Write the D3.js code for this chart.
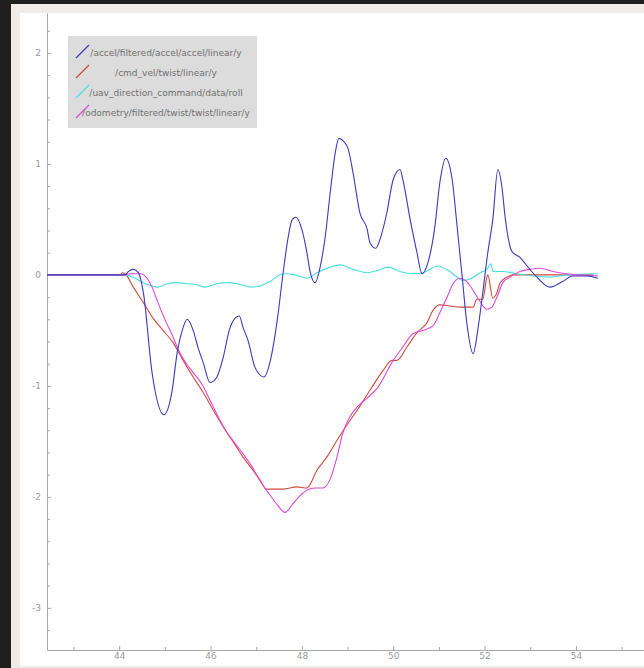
<!DOCTYPE html>
<html>
<head>
<meta charset="utf-8">
<script src="https://cdn.jsdelivr.net/npm/d3@7"></script>
<style>
  html, body { margin: 0; padding: 0; background: #1f1f1f; }
  svg { display: block; }
  .axis text { font-family: "DejaVu Sans", sans-serif; font-size: 9px; fill: #9a9a9a; }
  .axis path, .axis line { stroke: #a8a8a8; }
  .legend text { font-family: "DejaVu Sans", sans-serif; font-size: 9px; fill: #707070; }
</style>
</head>
<body>
<div id="vis"></div>
<script>
// series names (legend order)
const seriesNames = [
  "/accel/filtered/accel/accel/linear/y",
  "/cmd_vel/twist/linear/y",
  "/uav_direction_command/data/roll",
  "/odometry/filtered/twist/twist/linear/y"
];
const seriesColors = ["#3b3bbb", "#d14a3c", "#45e0e0", "#dd48dd"];

// [time, value]
const accel = [
  [42.42,0],[44.13,0],[44.20,0.03],[44.31,0.05],[44.42,0.02],[44.53,-0.16],[44.72,-0.88],
  [44.98,-1.26],[45.16,-1.04],[45.27,-0.70],[45.38,-0.50],[45.49,-0.40],[45.62,-0.50],
  [45.73,-0.66],[45.84,-0.79],[45.99,-0.97],[46.14,-0.92],[46.28,-0.74],[46.41,-0.50],
  [46.54,-0.39],[46.63,-0.37],[46.71,-0.47],[46.82,-0.59],[46.98,-0.84],[47.17,-0.92],
  [47.30,-0.79],[47.46,-0.41],[47.59,0.02],[47.70,0.34],[47.79,0.50],[47.87,0.52],
  [48.00,0.41],[48.11,0.20],[48.18,0.03],[48.29,-0.07],[48.40,0.07],[48.51,0.34],
  [48.62,0.74],[48.73,1.10],[48.81,1.23],[48.92,1.20],[49.01,1.14],[49.12,0.92],
  [49.27,0.56],[49.43,0.41],[49.49,0.29],[49.62,0.24],[49.71,0.32],[49.86,0.56],
  [50.00,0.86],[50.15,0.95],[50.21,0.86],[50.37,0.50],[50.52,0.20],[50.63,0.01],
  [50.76,0.11],[50.91,0.43],[51.02,0.83],[51.15,1.05],[51.29,0.86],[51.40,0.43],
  [51.51,-0.02],[51.61,-0.43],[51.75,-0.71],[51.85,-0.50],[51.96,-0.16],[52.07,0.20],
  [52.18,0.50],[52.29,0.95],[52.38,0.79],[52.45,0.52],[52.60,0.21],[52.77,0.16],
  [52.99,0.05],[53.17,-0.03],[53.43,-0.11],[53.71,-0.06],[53.93,-0.01],[54.24,-0.01],
  [54.48,-0.03]
];
const cmdVel = [
  [42.42,0],[44.02,0],[44.07,0.02],[44.13,0.01],[44.31,-0.11],[44.53,-0.25],[44.74,-0.39],
  [44.96,-0.50],[45.18,-0.61],[45.40,-0.77],[45.62,-0.92],[45.84,-1.06],[46.06,-1.22],
  [46.28,-1.37],[46.49,-1.50],[46.71,-1.64],[46.93,-1.76],[47.09,-1.85],[47.22,-1.93],
  [47.59,-1.93],[47.89,-1.91],[48.11,-1.92],[48.33,-1.76],[48.55,-1.64],[48.77,-1.49],
  [48.99,-1.35],[49.21,-1.22],[49.49,-1.04],[49.78,-0.86],[49.97,-0.77],[50.08,-0.77],
  [50.30,-0.65],[50.52,-0.52],[50.74,-0.43],[50.87,-0.32],[51.02,-0.27],[51.46,-0.29],
  [51.75,-0.29],[51.83,-0.22],[51.96,-0.22],[52.05,-0.02],[52.07,0.00],[52.18,-0.21],
  [52.27,-0.16],[52.34,-0.07],[52.49,-0.02],[52.62,0],[54.37,0]
];
const roll = [
  [42.42,0],[44.13,0],[44.35,-0.03],[44.53,-0.07],[44.72,-0.10],[44.85,-0.11],[45.05,-0.08],
  [45.27,-0.07],[45.49,-0.08],[45.71,-0.09],[45.88,-0.11],[46.14,-0.08],[46.36,-0.07],
  [46.58,-0.08],[46.87,-0.11],[47.09,-0.10],[47.30,-0.06],[47.59,0.01],[47.85,0.00],
  [48.11,-0.03],[48.33,0.02],[48.62,0.07],[48.84,0.09],[49.12,0.05],[49.43,0.02],
  [49.65,0.04],[49.89,0.07],[50.15,0.03],[50.43,0.01],[50.65,0.02],[50.98,0.08],
  [51.24,0.03],[51.53,-0.05],[51.72,-0.03],[51.90,0.02],[52.05,0.05],[52.14,0.10],
  [52.18,0.03],[52.40,0.03],[52.71,0.01],[53.06,-0.01],[53.43,-0.02],[53.80,0],[54.48,0.01]
];
const odom = [
  [42.42,0],[44.13,0],[44.24,0.01],[44.46,0.01],[44.61,-0.03],[44.72,-0.11],[44.85,-0.25],
  [45.01,-0.41],[45.16,-0.54],[45.29,-0.67],[45.44,-0.78],[45.62,-0.88],[45.82,-0.99],
  [45.99,-1.13],[46.17,-1.28],[46.36,-1.42],[46.54,-1.52],[46.71,-1.61],[46.91,-1.73],
  [47.09,-1.86],[47.26,-1.96],[47.46,-2.07],[47.63,-2.14],[47.79,-2.07],[47.89,-2.02],
  [48.11,-1.94],[48.29,-1.92],[48.46,-1.92],[48.62,-1.84],[48.77,-1.64],[48.90,-1.42],
  [49.05,-1.28],[49.21,-1.19],[49.43,-1.11],[49.65,-1.02],[50.00,-0.77],[50.21,-0.65],
  [50.43,-0.53],[50.65,-0.50],[50.87,-0.46],[51.02,-0.34],[51.18,-0.20],[51.31,-0.08],
  [51.46,-0.03],[51.61,-0.06],[51.75,-0.14],[51.90,-0.24],[52.05,-0.31],[52.16,-0.29],
  [52.27,-0.20],[52.40,-0.07],[52.56,-0.02],[52.77,0.03],[52.99,0.05],[53.21,0.06],
  [53.50,0.03],[53.80,0.01],[54.09,0],[54.48,-0.01]
];

const xTicks = [44, 46, 48, 50, 52, 54];
const yTicks = [-3, -2, -1, 0, 1, 2];

const [width, height] = [644, 668];
const plot = {left: 47, right: 644, top: 13, bottom: 650};

const svg = d3.select('#vis').append('svg')
  .attr('width', width).attr('height', height);

// window frame
svg.append('rect').attr('x', 11).attr('y', 4).attr('width', width - 11).attr('height', height - 4)
  .attr('fill', '#efece7');
svg.append('rect').attr('x', 20).attr('y', 13).attr('width', width - 20).attr('height', 653)
  .attr('fill', '#ffffff');

const x = d3.scaleLinear().domain([42.42, 55.49]).range([plot.left, plot.right]);
const y = d3.scaleLinear().domain([2.36, -3.38]).range([plot.top, plot.bottom]);

// minor ticks first, then major axes
svg.append('g').attr('class', 'axis')
  .attr('transform', `translate(${plot.left},0)`)
  .call(d3.axisLeft(y).tickValues(d3.range(-3.2, 2.3, 0.2).filter(v => Math.abs(v - Math.round(v)) > 0.01))
    .tickSize(-3).tickSizeOuter(0).tickFormat(''))
  .call(g => g.select('.domain').remove());
svg.append('g').attr('class', 'axis')
  .attr('transform', `translate(0,${plot.bottom})`)
  .call(d3.axisBottom(x).tickValues([43, 45, 47, 49, 51, 53, 55])
    .tickSize(-3).tickSizeOuter(0).tickFormat(''))
  .call(g => g.select('.domain').remove());

svg.append('g').attr('class', 'axis')
  .attr('transform', `translate(${plot.left},0)`)
  .call(d3.axisLeft(y).tickValues(yTicks).tickSize(-4).tickSizeOuter(0).tickPadding(6).tickFormat(d => String(d)));
svg.append('g').attr('class', 'axis')
  .attr('transform', `translate(0,${plot.bottom})`)
  .call(d3.axisBottom(x).tickValues(xTicks).tickSize(-4).tickSizeOuter(0).tickPadding(3).tickFormat(d => String(d)));

const line = d3.line().curve(d3.curveMonotoneX).x(d => x(d[0])).y(d => y(d[1]));
const series = [accel, cmdVel, roll, odom];
// draw so blue ends on top
[1, 2, 3, 0].forEach(i => {
  svg.append('path')
    .datum(series[i])
    .attr('fill', 'none')
    .attr('stroke', seriesColors[i])
    .attr('stroke-width', 1.1)
    .attr('stroke-linejoin', 'round')
    .attr('d', line);
});

// legend
const lg = svg.append('g').attr('class', 'legend');
lg.append('rect').attr('x', 68).attr('y', 36).attr('width', 189).attr('height', 92)
  .attr('fill', '#dcdcdc');
seriesNames.forEach((name, i) => {
  const cy = 52 + i * 20;
  lg.append('path')
    .attr('d', `M76,${cy + 6}L89,${cy - 7}`)
    .style('stroke', seriesColors[i]).attr('stroke-width', 1.2).attr('fill', 'none');
  lg.append('text')
    .attr('x', 166).attr('y', cy + 3.5)
    .attr('text-anchor', 'middle')
    .text(name);
});
</script>
</body>
</html>
